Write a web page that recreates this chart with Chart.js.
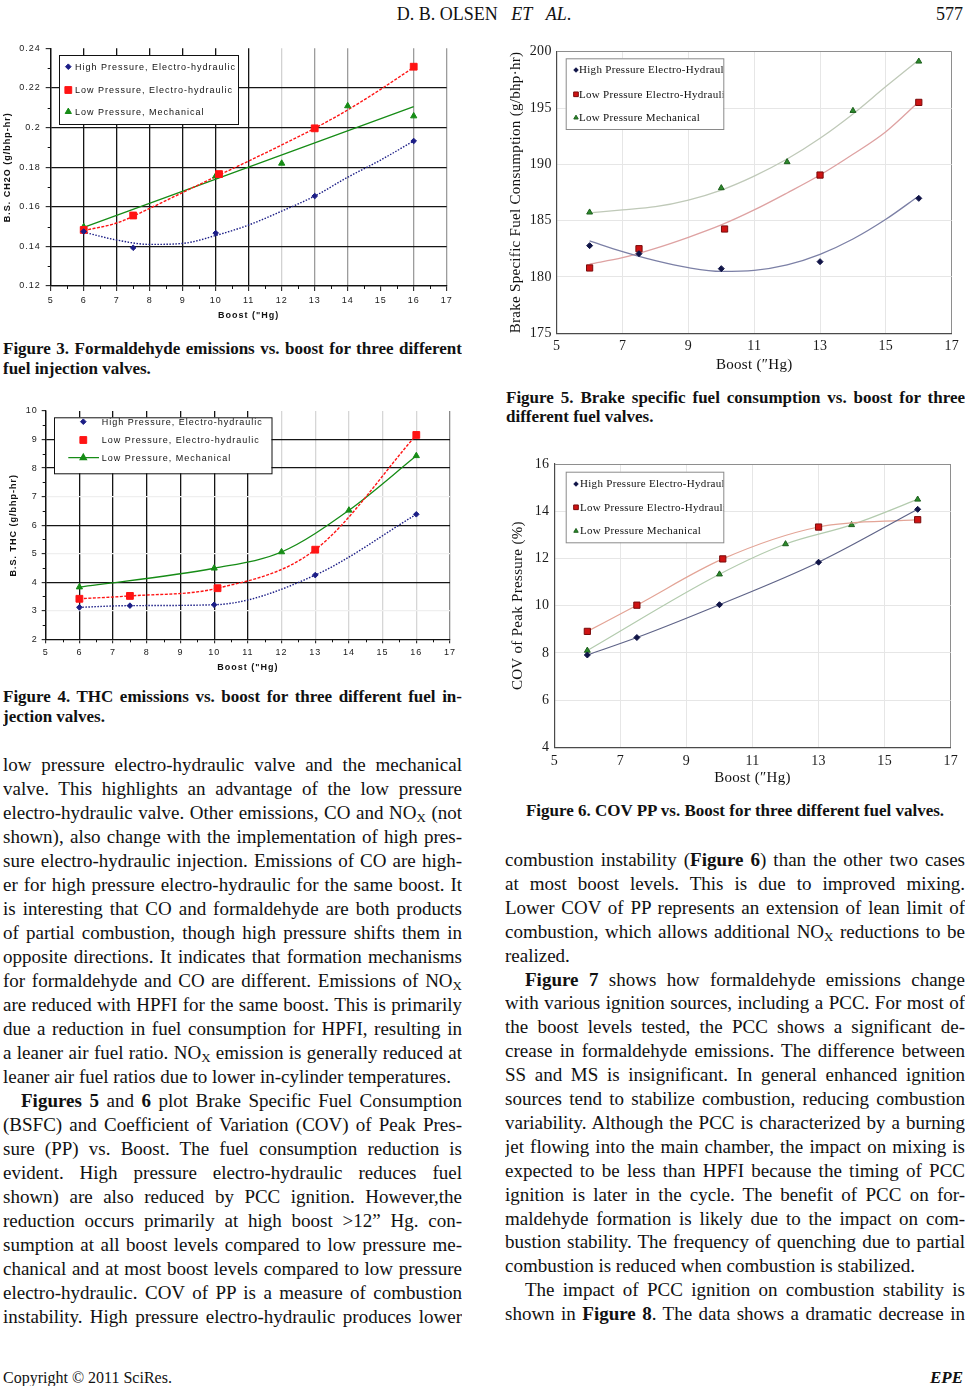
<!DOCTYPE html>
<html>
<head>
<meta charset="utf-8">
<script src="https://cdn.jsdelivr.net/npm/chart.js@4.4.0/dist/chart.umd.min.js"></script>
<style>
  body { margin: 0; width: 968px; height: 1386px; position: relative; overflow: hidden;
         background: #fff; color: #111; font-family: "Liberation Serif", "Times New Roman", serif; }
  .fig { position: absolute; }
  .ln { position: absolute; height: 24px; line-height: 24px; font-size: 19px; overflow: hidden; }
  .cap { position: absolute; height: 19px; line-height: 19px; font-size: 17px; font-weight: bold; overflow: hidden; }
  .j { text-align: justify; text-align-last: justify; }
  .sub { font-size: 13px; vertical-align: -3px; line-height: 0; }
  #head, #foot { position: absolute; left: 0; width: 968px; height: 22px; line-height: 22px; }
</style>
</head>
<body>

<div id="head">
  <div style="position:absolute;left:0;width:968px;text-align:center;font-size:18px;">D. B. OLSEN&nbsp;&nbsp;&nbsp;<i>ET</i>&nbsp;&nbsp;&nbsp;<i>AL</i>.</div>
  <div style="position:absolute;right:5px;font-size:18px;">577</div>
</div>

<div class="fig" style="left:0;top:35px;"><canvas id="fig3" width="470" height="295"></canvas></div>
<div class="fig" style="left:0;top:400px;"><canvas id="fig4" width="470" height="285"></canvas></div>
<div class="fig" style="left:505px;top:38px;"><canvas id="fig5" width="463" height="340"></canvas></div>
<div class="fig" style="left:505px;top:448px;"><canvas id="fig6" width="463" height="345"></canvas></div>

<div id="text"></div>

<div id="foot">
  <div style="position:absolute;left:3px;font-size:16px;">Copyright © 2011 SciRes.</div>
  <div style="position:absolute;right:5px;font-size:17px;font-weight:bold;font-style:italic;">EPE</div>
</div>

<script>
// ---- data ----

// boost levels ("Hg) tested with each valve
const boostHP = [6, 7.5, 10, 13, 16];
const boostLPEH = [6, 7.5, 10.1, 13, 16];
const boostLPM = [6, 10, 12, 14, 16];
// boost levels where the fitted curves were read
const fitBoost = [6, 7, 8, 9, 10, 11, 12, 13, 14, 15, 16];
const fitBoostEnds = [6, 16];

// Figure 3: formaldehyde (g/bhp-hr)
const ch2oHP = [0.1475, 0.1393, 0.1467, 0.1654, 0.1932];
const ch2oLPEH = [0.1483, 0.1556, 0.1765, 0.1996, 0.2307];
const ch2oLPM = [0.1499, 0.1755, 0.1819, 0.2109, 0.2058];
const ch2oFitHP = [0.1472, 0.1432, 0.1410, 0.1415, 0.1455, 0.1508, 0.1578, 0.1654, 0.1749, 0.1836, 0.1932];
const ch2oFitLPEH = [0.1480, 0.1518, 0.1592, 0.1672, 0.1752, 0.1831, 0.1912, 0.1996, 0.2089, 0.2193, 0.2304];
const ch2oFitLPM = [0.1496, 0.2105];
const ch2oTicks = ['0.12', '0.14', '0.16', '0.18', '0.2', '0.22', '0.24'];

// Figure 4: THC (g/bhp-hr)
const thcHP = [3.12, 3.18, 3.21, 4.25, 6.38];
const thcLPEH = [3.42, 3.52, 3.79, 5.14, 9.16];
const thcLPM = [3.83, 4.49, 5.06, 6.52, 8.43];

// Figure 5: BSFC (g/bhp.hr)
const bsfcHP = [182.78, 182.07, 180.74, 181.36, 186.98];
const bsfcLPEH = [180.80, 182.51, 184.26, 189.05, 195.50];
const bsfcLPM = [185.74, 187.90, 190.21, 194.76, 199.14];
const bsfcFitHP = [183.2, 182.25, 181.45, 180.83, 180.5, 180.59, 181.07, 182.01, 183.37, 185.12, 187.19];
const bsfcFitLPEH = [181.15, 181.71, 182.54, 183.52, 184.62, 185.95, 187.46, 189.05, 190.89, 192.9, 195.56];
const bsfcFitLPM = [185.7, 185.95, 186.24, 186.83, 187.72, 188.96, 190.47, 192.31, 194.47, 196.9, 199.26];

// Figure 6: COV of peak pressure (%)
const covHP = [7.91, 8.65, 10.04, 11.84, 14.08];
const covLPEH = [8.91, 10.02, 11.98, 13.33, 13.64];
const covLPM = [8.10, 11.33, 12.61, 13.42, 14.50];

// legend names
const namesA = ['High Pressure, Electro-hydraulic', 'Low Pressure, Electro-hydraulic', 'Low Pressure, Mechanical'];
const namesB = ['High Pressure Electro-Hydraulic', 'Low Pressure Electro-Hydraulic', 'Low Pressure Mechanical'];

// ---- helpers ----
function pts(xs, ys) {
    return xs.map((x, i) => ({ x: x, y: ys[i] }));
}

// canvas letter spacing (the scanned charts have spaced lettering)
function spacingPlugin(value) {
    return { id: 'spacing', beforeDraw(chart) { chart.ctx.letterSpacing = value; } };
}

// small half-step ticks on the axes of figures 3 and 4
function minorTickPlugin(m) {
    return {
        id: 'minorTicks',
        afterDraw(chart) {
            if (!m) return;
            const { ctx, scales: { x, y } } = chart;
            ctx.save();
            ctx.strokeStyle = '#111';
            ctx.lineWidth = 1;
            ctx.beginPath();
            for (let v = x.min + m.x / 2; v < x.max; v += m.x) {
                const px = Math.round(x.getPixelForValue(v)) + 0.5;
                ctx.moveTo(px, y.bottom); ctx.lineTo(px, y.bottom + 3);
            }
            for (let v = y.min + m.y / 2; v < y.max; v += m.y) {
                const py = Math.round(y.getPixelForValue(v)) + 0.5;
                ctx.moveTo(x.left, py); ctx.lineTo(x.left - 3, py);
            }
            ctx.stroke();
            ctx.restore();
        }
    };
}

// boxed legend drawn inside the plot
function boxLegendPlugin(L) {
    return {
        id: 'boxLegend',
        afterDraw(chart) {
            const ctx = chart.ctx;
            ctx.save();
            ctx.fillStyle = '#fff';
            ctx.fillRect(L.x, L.y, L.w, L.h);
            ctx.strokeStyle = L.border;
            ctx.lineWidth = 1;
            ctx.strokeRect(L.x + 0.5, L.y + 0.5, L.w, L.h);
            ctx.beginPath();
            ctx.rect(L.x, L.y, L.w, L.h);
            ctx.clip();
            ctx.font = L.font;
            ctx.textBaseline = 'middle';
            L.rows.forEach((y, i) => {
                const ds = chart.data.datasets[i];
                if (L.lineRow === i) {
                    ctx.strokeStyle = ds.borderColor;
                    ctx.lineWidth = ds.borderWidth;
                    ctx.beginPath();
                    ctx.moveTo(L.lineFrom, y); ctx.lineTo(L.lineTo, y);
                    ctx.stroke();
                }
                ctx.fillStyle = ds.pointBackgroundColor;
                ctx.strokeStyle = ds.pointBorderColor;
                Chart.helpers.drawPoint(ctx, { pointStyle: ds.pointStyle, radius: ds.pointRadius * L.scale, rotation: 0, borderWidth: 1 }, L.markerX, y);
                ctx.fillStyle = '#111';
                ctx.fillText(ds.label, L.textX, y + 0.5);
            });
            ctx.restore();
        }
    };
}

function axis(a, font, titleFont) {
    return {
        type: 'linear',
        min: a.min, max: a.max,
        ticks: {
            stepSize: a.step, autoSkip: false, maxRotation: 0, padding: a.tickPad,
            color: '#1a1a1a', font: font,
            callback: a.labels ? (v, i) => a.labels[i] : (v) => v
        },
        grid: {
            color: (c) => a.grid(c.tick.value),
            lineWidth: a.gridWidth,
            drawTicks: a.tickLen > 0, tickLength: a.tickLen, tickColor: '#111', tickWidth: 1
        },
        border: { color: a.axisColor, width: a.axisWidth },
        title: { display: true, text: a.title, color: '#111', font: titleFont, padding: a.titlePad },
        afterFit: (s) => { if (a.size.w) s.width = a.size.w; else s.height = a.size.h; }
    };
}

function buildChart(id, s) {
    const ctx = document.getElementById(id).getContext('2d');
    return new Chart(ctx, {
        type: 'scatter',
        data: { datasets: s.datasets },
        options: {
            responsive: false,
            animation: false,
            events: [],
            layout: { padding: { top: s.padTop, right: s.padRight, left: 0, bottom: 0 } },
            plugins: { legend: { display: false }, tooltip: { enabled: false } },
            scales: {
                x: axis(s.x, s.tickFont, s.titleFont),
                y: axis(s.y, s.tickFont, s.titleFont)
            }
        },
        plugins: [spacingPlugin(s.spacing), minorTickPlugin(s.minor), boxLegendPlugin(s.legend)]
    });
}

// marker dataset
function marks(label, xs, ys, style, r, fill, stroke, line) {
    const d = {
        label: label, data: pts(xs, ys), order: 0,
        pointStyle: style, pointRadius: r, pointBackgroundColor: fill, pointBorderColor: stroke,
        pointBorderWidth: 1, showLine: false, borderColor: fill, borderWidth: 1
    };
    if (line) {
        Object.assign(d, { showLine: true, borderColor: line.color, borderWidth: line.width,
            borderDash: line.dash || [], cubicInterpolationMode: 'monotone' });
    }
    return d;
}

// fitted curve dataset
function curve(xs, ys, color, width, dash) {
    return {
        label: '', data: pts(xs, ys), order: 1, showLine: true, pointRadius: 0,
        borderColor: color, borderWidth: width, borderDash: dash || [], cubicInterpolationMode: 'monotone'
    };
}

const navy = '#1b1d86', red = '#ff1414', green = '#168c16';
const navy2 = '#101447', red2 = '#cf1313', green2 = '#2b8a2b';
const sans = '"Liberation Sans", Arial, sans-serif';
const serif = '"Liberation Serif", "Times New Roman", serif';

document.addEventListener('DOMContentLoaded', function () {

    // Figure 3 - formaldehyde vs boost
    buildChart('fig3', {
        padTop: 13.3, padRight: 23.3, spacing: '1px',
        tickFont: { family: sans, size: 9 },
        titleFont: { family: sans, size: 9, weight: 'bold' },
        minor: { x: 1, y: 0.02 },
        x: { min: 5, max: 17, step: 1, tickPad: 4, tickLen: 5, gridWidth: 1.3, axisColor: '#111', axisWidth: 1.3,
             title: 'Boost ("Hg)', titlePad: { top: 0, bottom: 9.5 }, size: { h: 44 },
             grid: (v) => v <= 11 ? '#151515' : v === 12 ? '#d2d2d2' : v === 15 ? 'rgba(0,0,0,0)' : '#9c9c9c' },
        y: { min: 0.12, max: 0.24, step: 0.02, labels: ch2oTicks, tickPad: 5, tickLen: 5, gridWidth: 1.3, axisColor: '#111', axisWidth: 1.3,
             title: 'B.S. CH2O (g/bhp-hr)', titlePad: { top: 2.5, bottom: 0 }, size: { w: 50.7 },
             grid: (v) => v > 0.235 ? 'rgba(0,0,0,0)' : '#151515' },
        legend: { x: 59, y: 20, w: 179, h: 69, border: '#111', font: '9px ' + sans, scale: 1,
                  rows: [31.7, 55, 76.7], markerX: 68.3, textX: 75 },
        datasets: [
            marks(namesA[0], boostHP, ch2oHP, 'rectRot', 2.8, navy, navy),
            marks(namesA[1], boostLPEH, ch2oLPEH, 'rect', 4.8, red, red),
            marks(namesA[2], boostLPM, ch2oLPM, 'triangle', 3.6, green, green),
            curve(fitBoost, ch2oFitHP, navy, 1.4, [1.5, 1.5]),
            curve(fitBoost, ch2oFitLPEH, red, 1.4, [3, 1.5]),
            curve(fitBoostEnds, ch2oFitLPM, green, 1.3)
        ]
    });

    // Figure 4 - THC vs boost
    const thcDark = [4, 6, 8, 9];
    buildChart('fig4', {
        padTop: 11, padRight: 20, spacing: '1px',
        tickFont: { family: sans, size: 9 },
        titleFont: { family: sans, size: 9, weight: 'bold' },
        minor: { x: 1, y: 1 },
        x: { min: 5, max: 17, step: 1, tickPad: 4, tickLen: 4, gridWidth: 1.3, axisColor: '#111', axisWidth: 1.3,
             title: 'Boost ("Hg)', titlePad: { top: 0, bottom: 12.5 }, size: { h: 45.7 },
             grid: (v) => v <= 11 ? '#151515' : v === 17 ? '#8a8a8a' : '#d6d6d6' },
        y: { min: 2, max: 10, step: 1, tickPad: 4, tickLen: 4, gridWidth: 1.3, axisColor: '#111', axisWidth: 1.3,
             title: 'B.S. THC (g/bhp-hr)', titlePad: { top: 8.5, bottom: 0 }, size: { w: 45.7 },
             grid: (v) => thcDark.includes(v) ? '#151515' : v === 10 ? 'rgba(0,0,0,0)' : '#efefef' },
        legend: { x: 54, y: 17.3, w: 217.5, h: 56, border: '#111', font: '9px ' + sans, scale: 1,
                  rows: [21.7, 40, 57.7], markerX: 83.3, textX: 101.7, lineRow: 2, lineFrom: 68.3, lineTo: 99 },
        datasets: [
            marks(namesA[0], boostHP, thcHP, 'rectRot', 2.8, navy, navy, { color: navy, width: 1.4, dash: [1.5, 1.5] }),
            marks(namesA[1], boostLPEH, thcLPEH, 'rect', 4.8, red, red, { color: red, width: 1.4, dash: [3, 1.5] }),
            marks(namesA[2], boostLPM, thcLPM, 'triangle', 3.6, green, green, { color: green, width: 1.3 })
        ]
    });

    // Figure 5 - BSFC vs boost
    buildChart('fig5', {
        padTop: 13.7, padRight: 16.3, spacing: '0.3px',
        tickFont: { family: serif, size: 14 },
        titleFont: { family: serif, size: 15 },
        x: { min: 5, max: 17, step: 2, tickPad: 5, tickLen: 0, gridWidth: 1, axisColor: '#4a4a4a', axisWidth: 1.2,
             title: 'Boost (″Hg)', titlePad: { top: 0, bottom: 4 }, size: { h: 44.7 },
             grid: (v) => v === 17 ? '#8e8e8e' : '#e6e6e6' },
        y: { min: 175, max: 200, step: 5, tickPad: 5, tickLen: 0, gridWidth: 1, axisColor: '#4a4a4a', axisWidth: 1.2,
             title: 'Brake Specific Fuel Consumption (g/bhp·hr)', titlePad: { top: 2.5, bottom: 0 }, size: { w: 51.7 },
             grid: (v) => v === 200 ? '#8e8e8e' : '#e6e6e6' },
        legend: { x: 60.7, y: 20.3, w: 157.6, h: 70.7, border: '#8a8a8a', font: '11px ' + serif, scale: 0.75,
                  rows: [32, 56.3, 79.7], markerX: 71, textX: 74 },
        datasets: [
            marks(namesB[0], boostHP, bsfcHP, 'rectRot', 3, navy2, navy2),
            marks(namesB[1], boostLPEH, bsfcLPEH, 'rect', 4.4, red2, '#7a0b0b'),
            marks(namesB[2], boostLPM, bsfcLPM, 'triangle', 3.4, green2, '#1d5f1d'),
            curve(fitBoost, bsfcFitHP, '#7c80a6', 1.3),
            curve(fitBoost, bsfcFitLPEH, '#dea2a2', 1.3),
            curve(fitBoost, bsfcFitLPM, '#bfc9b8', 1.3)
        ]
    });

    // Figure 6 - COV of peak pressure vs boost
    buildChart('fig6', {
        padTop: 16, padRight: 17.3, spacing: '0.3px',
        tickFont: { family: serif, size: 14 },
        titleFont: { family: serif, size: 15 },
        x: { min: 5, max: 17, step: 2, tickPad: 6, tickLen: 0, gridWidth: 1, axisColor: '#4a4a4a', axisWidth: 1.2,
             title: 'Boost (″Hg)', titlePad: { top: 0, bottom: 5.5 }, size: { h: 45.7 },
             grid: (v) => v === 17 ? '#8e8e8e' : '#e6e6e6' },
        y: { min: 4, max: 16, step: 2, tickPad: 5, tickLen: 0, gridWidth: 1, axisColor: '#4a4a4a', axisWidth: 1.2,
             title: 'COV of Peak Pressure (%)', titlePad: { top: 4, bottom: 0 }, size: { w: 49.3 },
             grid: (v) => v === 16 ? '#8e8e8e' : '#e6e6e6' },
        legend: { x: 60.7, y: 23.7, w: 157.6, h: 70.6, border: '#8a8a8a', font: '11px ' + serif, scale: 0.75,
                  rows: [36, 59.3, 83], markerX: 71, textX: 75 },
        datasets: [
            marks(namesB[0], boostHP, covHP, 'rectRot', 3, navy2, navy2, { color: '#5f6488', width: 1.2 }),
            marks(namesB[1], boostLPEH, covLPEH, 'rect', 4.4, red2, '#7a0b0b', { color: '#e3a496', width: 1.2 }),
            marks(namesB[2], boostLPM, covLPM, 'triangle', 3.4, green2, '#1d5f1d', { color: '#b3cbae', width: 1.2 })
        ]
    });

    // ---- page text ----
    const NOX = 'NO<span class="sub">X</span>';
    const leftLines = [
        ['low pressure electro-hydraulic valve and the mechanical', 'j'],
        ['valve. This highlights an advantage of the low pressure', 'j'],
        ['electro-hydraulic valve. Other emissions, CO and ' + NOX + ' (not', 'j'],
        ['shown), also change with the implementation of high pres-', 'j'],
        ['sure electro-hydraulic injection. Emissions of CO are high-', 'j'],
        ['er for high pressure electro-hydraulic for the same boost. It', 'j'],
        ['is interesting that CO and formaldehyde are both products', 'j'],
        ['of partial combustion, though high pressure shifts them in', 'j'],
        ['opposite directions. It indicates that formation mechanisms', 'j'],
        ['for formaldehyde and CO are different. Emissions of ' + NOX, 'j'],
        ['are reduced with HPFI for the same boost. This is primarily', 'j'],
        ['due a reduction in fuel consumption for HPFI, resulting in', 'j'],
        ['a leaner air fuel ratio. ' + NOX + ' emission is generally reduced at', 'j'],
        ['leaner air fuel ratios due to lower in-cylinder temperatures.', 'l'],
        ['<b>Figures 5</b> and <b>6</b> plot Brake Specific Fuel Consumption', 'ji'],
        ['(BSFC) and Coefficient of Variation (COV) of Peak Pres-', 'j'],
        ['sure (PP) vs. Boost. The fuel consumption reduction is', 'j'],
        ['evident. High pressure electro-hydraulic reduces fuel', 'j'],
        ['shown) are also reduced by PCC ignition. However,the', 'j'],
        ['reduction occurs primarily at high boost &gt;12” Hg. con-', 'j'],
        ['sumption at all boost levels compared to low pressure me-', 'j'],
        ['chanical and at most boost levels compared to low pressure', 'j'],
        ['electro-hydraulic. COV of PP is a measure of combustion', 'j'],
        ['instability. High pressure electro-hydraulic produces lower', 'j']
    ];
    const rightLines = [
        ['combustion instability (<b>Figure 6</b>) than the other two cases', 'j'],
        ['at most boost levels. This is due to improved mixing.', 'j'],
        ['Lower COV of PP represents an extension of lean limit of', 'j'],
        ['combustion, which allows additional ' + NOX + ' reductions to be', 'j'],
        ['realized.', 'l'],
        ['<b>Figure 7</b> shows how formaldehyde emissions change', 'ji'],
        ['with various ignition sources, including a PCC. For most of', 'j'],
        ['the boost levels tested, the PCC shows a significant de-', 'j'],
        ['crease in formaldehyde emissions. The difference between', 'j'],
        ['SS and MS is insignificant. In general enhanced ignition', 'j'],
        ['sources tend to stabilize combustion, reducing combustion', 'j'],
        ['variability. Although the PCC is characterized by a burning', 'j'],
        ['jet flowing into the main chamber, the impact on mixing is', 'j'],
        ['expected to be less than HPFI because the timing of PCC', 'j'],
        ['ignition is later in the cycle. The benefit of PCC on for-', 'j'],
        ['maldehyde formation is likely due to the impact on com-', 'j'],
        ['bustion stability. The frequency of quenching due to partial', 'j'],
        ['combustion is reduced when combustion is stabilized.', 'l'],
        ['The impact of PCC ignition on combustion stability is', 'ji'],
        ['shown in <b>Figure 8</b>. The data shows a dramatic decrease in', 'j']
    ];
    const captions = [
        { x: 3, w: 459, y: 350.7, t: 'Figure 3. Formaldehyde emissions vs. boost for three different', k: 'j' },
        { x: 3, w: 459, y: 370, t: 'fuel injection valves.', k: 'l' },
        { x: 3, w: 459, y: 698, t: 'Figure 4. THC emissions vs. boost for three different fuel in-', k: 'j' },
        { x: 3, w: 459, y: 718, t: 'jection valves.', k: 'l' },
        { x: 506, w: 459, y: 399, t: 'Figure 5. Brake specific fuel consumption vs. boost for three', k: 'j' },
        { x: 506, w: 459, y: 418.3, t: 'different fuel valves.', k: 'l' },
        { x: 505, w: 460, y: 812.3, t: 'Figure 6. COV PP vs. Boost for three different fuel valves.', k: 'c' }
    ];

    const holder = document.getElementById('text');
    function addLine(cls, x, w, top, html, kind, indent) {
        const d = document.createElement('div');
        d.className = cls + (kind[0] === 'j' ? ' j' : '');
        d.style.left = x + 'px';
        d.style.width = w + 'px';
        d.style.top = top + 'px';
        if (kind === 'c') d.style.textAlign = 'center';
        if (kind === 'ji') d.style.paddingLeft = indent + 'px', d.style.width = (w - indent) + 'px';
        d.innerHTML = html;
        holder.appendChild(d);
    }
    leftLines.forEach((l, i) => addLine('ln', 3, 459, 766 + 24 * i - 13, l[0], l[1], 18));
    rightLines.forEach((l, i) => addLine('ln', 505, 460, 861 + 23.9 * i - 13, l[0], l[1], 20));
    captions.forEach((c) => addLine('cap', c.x, c.w, c.y - 11.5, c.t, c.k, 0));

    document.getElementById('head').style.top = '3px';
    document.getElementById('foot').style.top = '1367px';
});
</script>
</body>
</html>
